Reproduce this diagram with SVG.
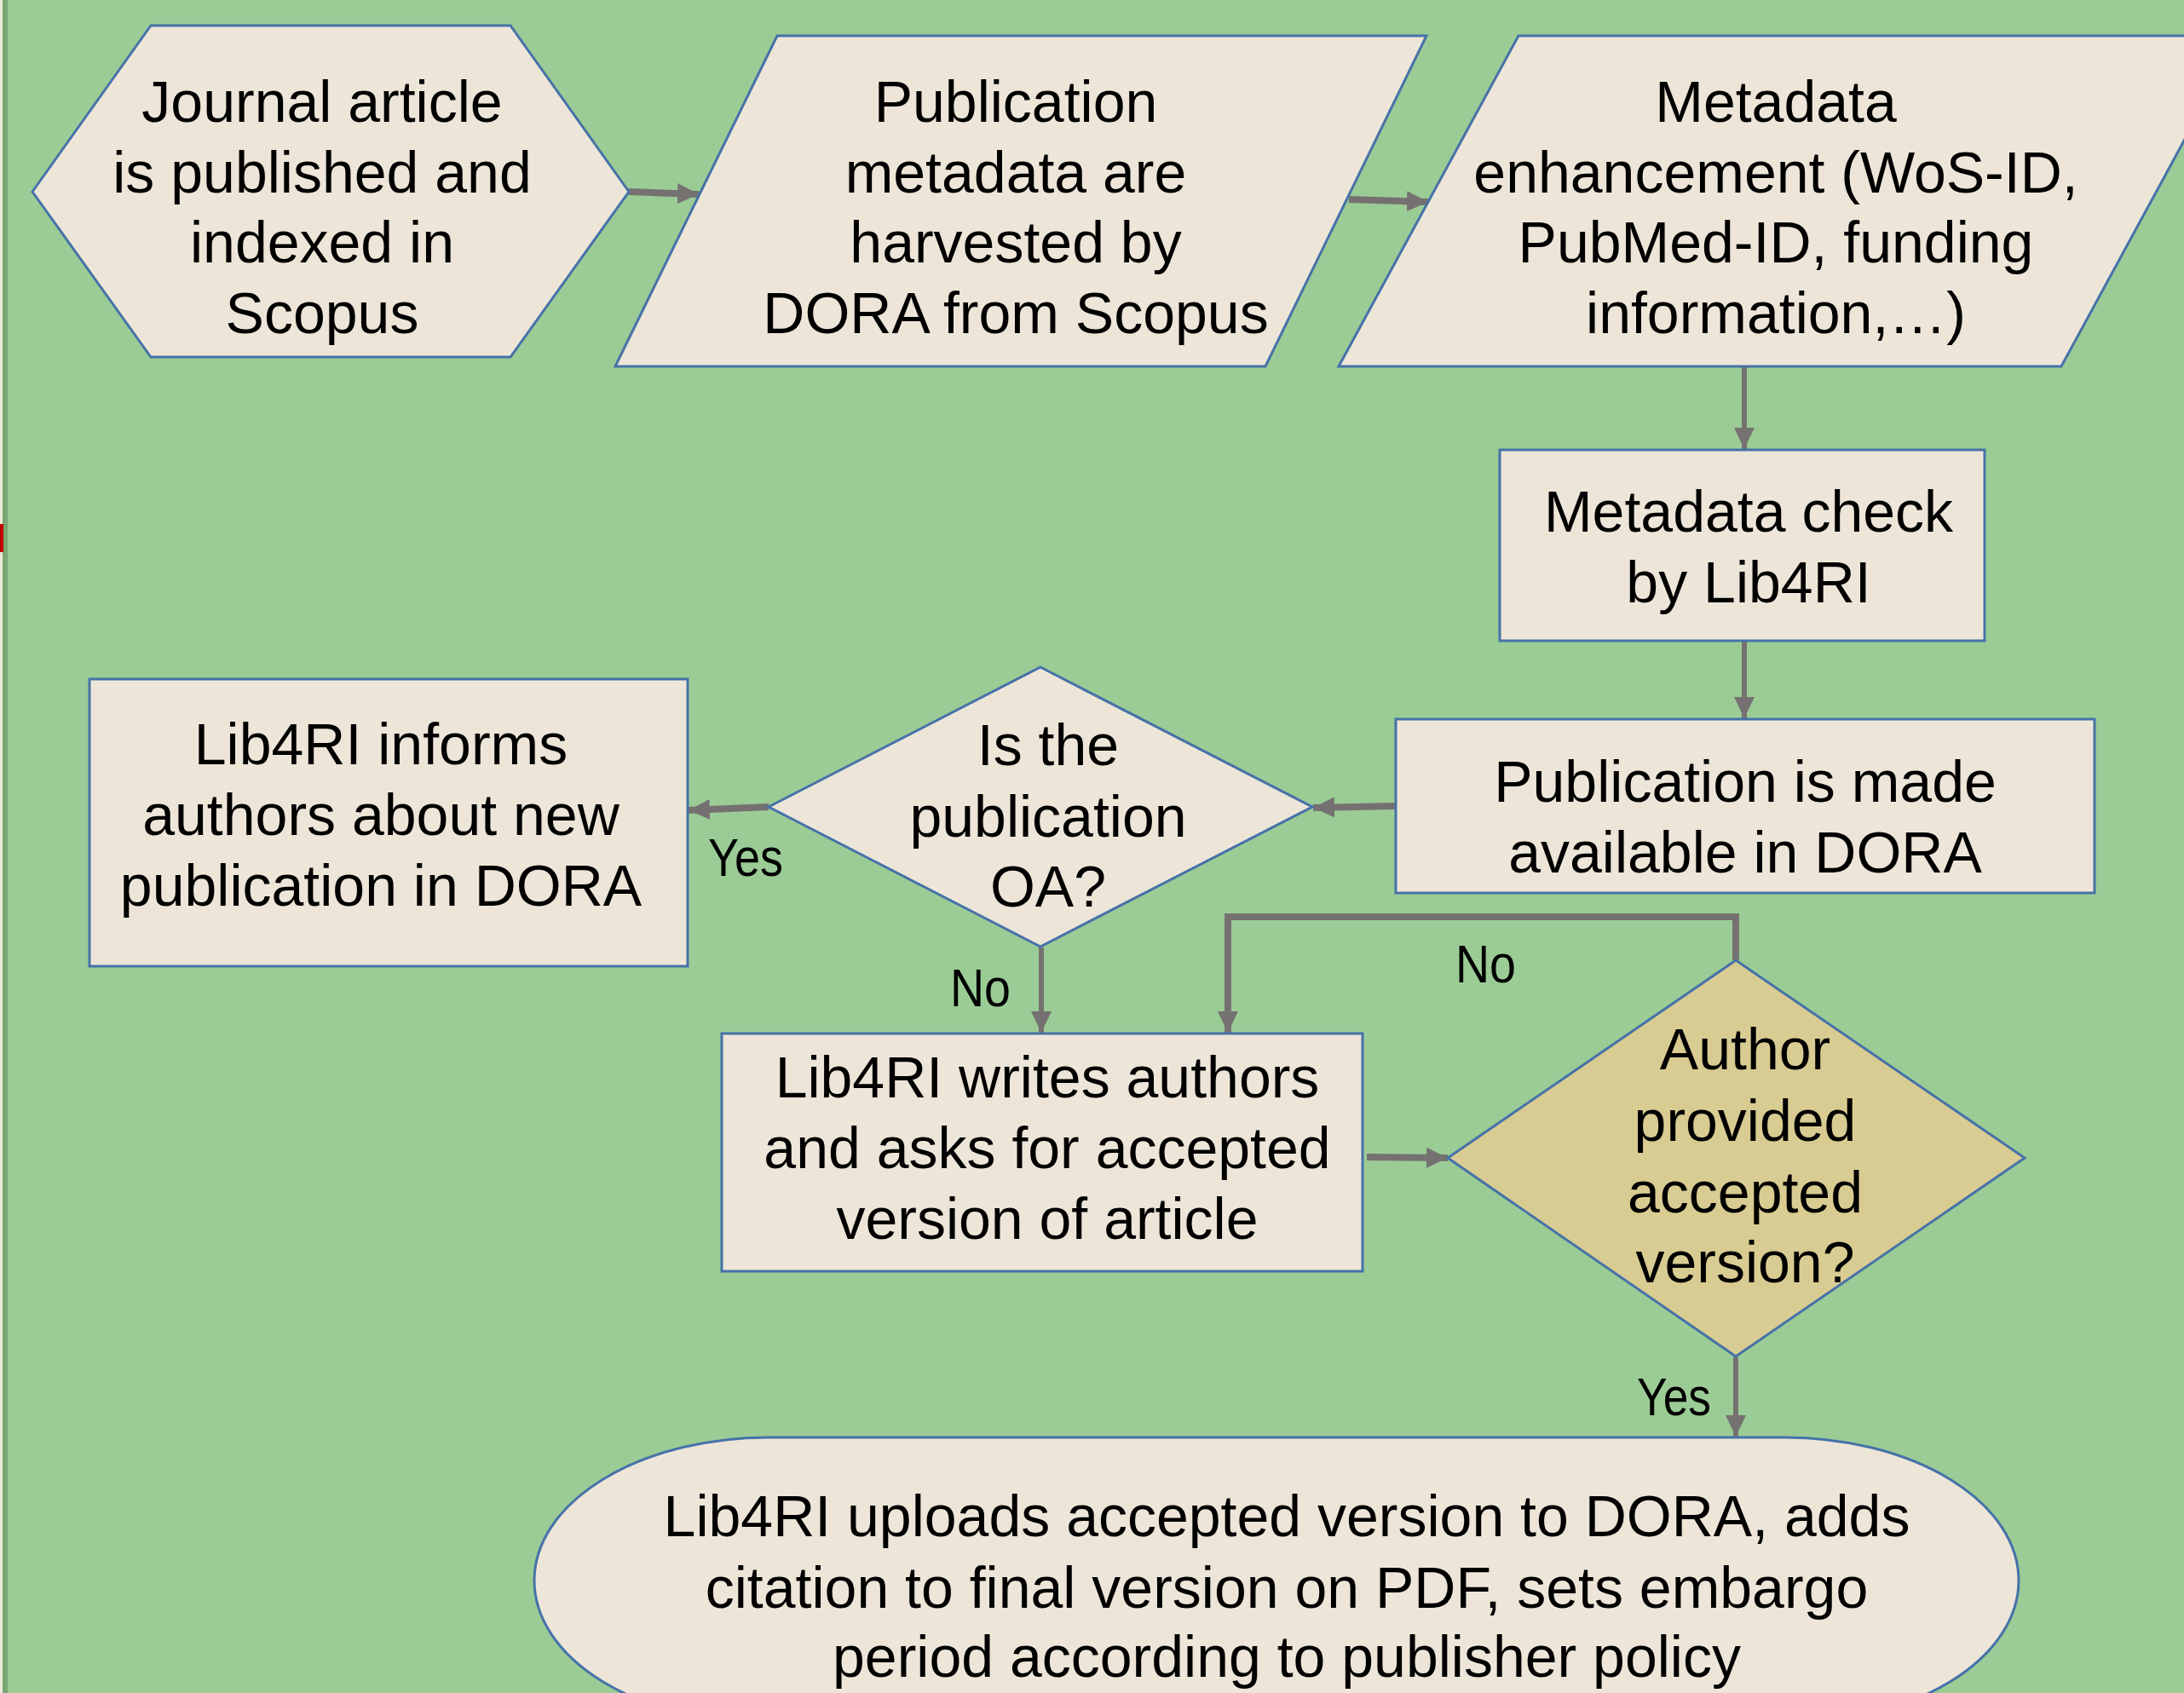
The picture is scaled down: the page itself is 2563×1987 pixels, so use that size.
<svg xmlns="http://www.w3.org/2000/svg" width="2563" height="1987" viewBox="0 0 2563 1987">
<style>
.node{fill:#EDE6D8;stroke:#4672A8;stroke-width:3}
.tan{fill:#D9CC92;stroke:#4672A8;stroke-width:3}
.t{font-family:"Liberation Sans",Arial,sans-serif;font-size:68px;fill:#000;text-anchor:middle}
.lbl{font-family:"Liberation Sans",Arial,sans-serif;font-size:63px;fill:#000}
.c{fill:none;stroke:#767171;stroke-width:6;marker-end:url(#ah)}
.cw{fill:none;stroke:#767171;stroke-width:8;marker-end:url(#ah)}
</style>
<defs>
<marker id="ah" markerUnits="userSpaceOnUse" markerWidth="26" markerHeight="24" refX="25" refY="12" orient="auto" viewBox="0 0 26 24">
<path d="M0,0 L25,12 L0,24 z" fill="#767171"/>
</marker>
</defs>
<rect x="0" y="0" width="2563" height="1987" fill="#9BCC96"/>
<rect x="0" y="0" width="3" height="1987" fill="#EDE7DA"/>
<rect x="3" y="0" width="6" height="1987" fill="#79A774"/>
<rect x="0" y="615" width="4" height="33" fill="#C00000"/>

<g id="connectors">
<path class="cw" d="M738,225 L820,228"/>
<path class="cw" d="M1583,234 L1676,237"/>
<path class="c" d="M2047,430 L2047,527"/>
<path class="c" d="M2047,752 L2047,843"/>
<path class="cw" d="M1638,946 L1541,948"/>
<path class="cw" d="M902,947 L808,951"/>
<path class="c" d="M1222,1112 L1222,1212"/>
<path class="cw" d="M2037,1127 L2037,1076 L1441,1076 L1441,1212"/>
<path class="cw" d="M1604,1358 L1699,1359"/>
<path class="c" d="M2037,1593 L2037,1686"/>
<text class="lbl" x="831" y="1028" textLength="88" lengthAdjust="spacingAndGlyphs">Yes</text>
<text class="lbl" x="1115" y="1181" textLength="71" lengthAdjust="spacingAndGlyphs">No</text>
<text class="lbl" x="1708" y="1153" textLength="71" lengthAdjust="spacingAndGlyphs">No</text>
<text class="lbl" x="1921" y="1661" textLength="87" lengthAdjust="spacingAndGlyphs">Yes</text>
</g>

<g id="n1">
<polygon class="node" points="38,225 177,30 599,30 738,225 599,419 177,419"/>
<text class="t" x="378" y="143">Journal article</text>
<text class="t" x="378" y="226">is published and</text>
<text class="t" x="378" y="308">indexed in</text>
<text class="t" x="378" y="391">Scopus</text>
</g>

<g id="n2">
<polygon class="node" points="912,42 1674,42 1485,430 722,430"/>
<text class="t" x="1192" y="143">Publication</text>
<text class="t" x="1192" y="226">metadata are</text>
<text class="t" x="1192" y="308">harvested by</text>
<text class="t" x="1192" y="391">DORA from Scopus</text>
</g>

<g id="n3">
<polygon class="node" points="1782,42 2630,42 2419,430 1571,430"/>
<text class="t" x="2084" y="143">Metadata</text>
<text class="t" x="2084" y="226">enhancement (WoS-ID,</text>
<text class="t" x="2084" y="308">PubMed-ID, funding</text>
<text class="t" x="2084" y="391">information,…)</text>
</g>

<g id="n4">
<rect class="node" x="1760" y="528" width="569" height="224"/>
<text class="t" x="2052" y="624">Metadata check</text>
<text class="t" x="2052" y="707">by Lib4RI</text>
</g>

<g id="n5">
<rect class="node" x="1638" y="844" width="820" height="204"/>
<text class="t" x="2048" y="941">Publication is made</text>
<text class="t" x="2048" y="1024">available in DORA</text>
</g>

<g id="n6">
<polygon class="node" points="1221,783 1540,947 1221,1111 902,947"/>
<text class="t" x="1230" y="898">Is the</text>
<text class="t" x="1230" y="982">publication</text>
<text class="t" x="1230" y="1064">OA?</text>
</g>

<g id="n7">
<rect class="node" x="105" y="797" width="702" height="337"/>
<text class="t" x="447" y="897">Lib4RI informs</text>
<text class="t" x="447" y="980">authors about new</text>
<text class="t" x="447" y="1063">publication in DORA</text>
</g>

<g id="n8">
<rect class="node" x="847" y="1213" width="752" height="279"/>
<text class="t" x="1229" y="1288">Lib4RI writes authors</text>
<text class="t" x="1229" y="1371">and asks for accepted</text>
<text class="t" x="1229" y="1454">version of article</text>
</g>

<g id="n9">
<polygon class="tan" points="2037,1127 2376,1359 2037,1592 1699,1359"/>
<text class="t" x="2048" y="1255">Author</text>
<text class="t" x="2048" y="1339">provided</text>
<text class="t" x="2048" y="1423">accepted</text>
<text class="t" x="2048" y="1505">version?</text>
</g>

<g id="n10">
<rect class="node" x="627" y="1687" width="1742" height="336" rx="275" ry="168"/>
<text class="t" x="1510" y="1803">Lib4RI uploads accepted version to DORA, adds</text>
<text class="t" x="1510" y="1887">citation to final version on PDF, sets embargo</text>
<text class="t" x="1510" y="1968">period according to publisher policy</text>
</g>
</svg>
